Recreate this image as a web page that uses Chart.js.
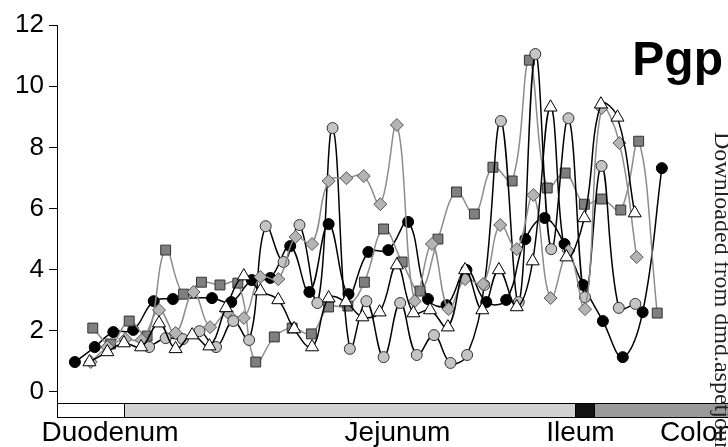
<!DOCTYPE html>
<html>
<head>
<meta charset="utf-8">
<script src="https://cdn.jsdelivr.net/npm/chart.js@4/dist/chart.umd.min.js"></script>
<style>
  html, body { margin: 0; padding: 0; background: #fff; }
  #wrap { width: 728px; height: 447px; position: relative; }
</style>
</head>
<body>
<div id="wrap"><canvas id="c" width="728" height="447"></canvas></div>
<script>
// Position along the gut (% of length) and Pgp expression for each animal
const filledCirclePos = [2.7, 5.7, 8.5, 11.5, 14.6, 17.5, 23.4, 26.3, 29.4, 32.2, 35.2, 38.1, 41.0, 44.0, 47.0, 50.0, 53.0, 56.0, 58.8, 61.8, 64.8, 67.8, 70.7, 73.6, 76.6, 79.4, 82.4, 85.4, 88.4, 91.3];
const filledCircleVal = [0.98, 1.47, 1.96, 2.03, 2.97, 3.04, 3.07, 2.94, 3.66, 3.73, 4.77, 3.27, 5.49, 3.20, 4.58, 4.64, 5.56, 3.04, 2.84, 3.99, 2.94, 3.01, 5.00, 5.69, 4.84, 3.50, 2.32, 1.14, 2.61, 7.32];

const greyCirclePos = [13.9, 16.4, 19.0, 21.5, 24.0, 26.6, 29.0, 31.5, 34.2, 36.6, 39.3, 41.6, 44.2, 46.7, 49.3, 51.8, 54.3, 56.9, 59.4, 61.9, 64.5, 67.0, 69.7, 72.2, 74.6, 77.2, 79.7, 82.2, 84.8, 87.3];
const greyCircleVal = [1.47, 1.76, 1.73, 1.99, 1.47, 2.32, 1.70, 5.42, 4.25, 5.46, 2.91, 8.63, 1.41, 2.97, 1.14, 2.91, 1.21, 1.86, 0.95, 1.21, 3.50, 8.86, 2.94, 11.05, 4.67, 8.95, 3.10, 7.39, 2.75, 2.88];

const squarePos = [5.4, 8.1, 10.9, 13.6, 16.4, 19.1, 21.8, 24.6, 27.3, 30.0, 32.8, 35.5, 38.4, 41.0, 43.9, 46.4, 49.3, 52.1, 54.8, 57.5, 60.3, 63.0, 65.8, 68.7, 71.3, 74.0, 76.7, 79.6, 82.2, 85.1, 87.8, 90.6];
const squareVal = [2.09, 1.57, 2.32, 1.83, 4.64, 3.20, 3.59, 3.50, 3.56, 0.98, 1.80, 2.09, 1.90, 2.78, 2.81, 3.59, 5.33, 4.25, 3.30, 5.00, 6.54, 5.82, 7.35, 6.90, 10.85, 6.67, 7.16, 6.14, 6.31, 5.95, 8.20, 2.58];

const diamondPos = [5.1, 7.6, 10.3, 12.8, 15.4, 17.9, 20.6, 23.1, 25.7, 28.2, 30.7, 33.4, 36.0, 38.5, 41.0, 43.7, 46.3, 48.8, 51.3, 54.0, 56.6, 59.1, 61.6, 64.3, 66.9, 69.4, 71.9, 74.5, 77.2, 79.7, 82.2, 84.9, 87.5];
const diamondVal = [0.98, 1.47, 1.73, 1.70, 2.68, 1.93, 3.27, 2.12, 2.61, 2.42, 3.76, 3.69, 5.07, 4.84, 6.90, 6.99, 7.06, 6.14, 8.73, 2.97, 4.84, 2.71, 3.69, 3.53, 5.46, 4.67, 6.44, 3.07, 4.61, 2.71, 9.28, 8.14, 4.41];

const trianglePos = [4.9, 7.6, 10.1, 12.7, 15.4, 17.9, 20.4, 23.0, 25.5, 28.2, 30.7, 33.4, 35.8, 38.5, 41.0, 43.6, 46.1, 48.7, 51.3, 53.8, 56.3, 59.0, 61.6, 64.2, 66.7, 69.4, 71.8, 74.5, 76.9, 79.6, 82.1, 84.6, 87.2];
const triangleVal = [0.98, 1.31, 1.60, 1.47, 2.25, 1.41, 1.86, 1.50, 2.75, 3.79, 3.30, 3.01, 2.06, 1.47, 3.07, 2.94, 2.45, 2.61, 4.15, 2.58, 2.68, 2.12, 3.99, 2.68, 3.99, 2.78, 4.28, 9.31, 4.41, 5.69, 9.41, 8.98, 5.85];

const yTicks = [0, 2, 4, 6, 8, 10, 12];

// Gut regions: names and their start/end along the gut (%)
const regionNames = ['Duodenum', 'Jejunum', 'Ileum', 'Colon'];
const regionStart = [0, 10.1, 78.2, 81.0];
const regionEnd   = [10.1, 78.2, 81.0, 110];

function pts(xs, ys) { return xs.map((x, i) => ({ x: x, y: ys[i] })); }

const regionStyle = {
  fills: ['#ffffff', '#d2d2d2', '#111111', '#9a9a9a'],
  labelAt: [8.0, 51.4, 79.0, 91.0],
  labelAlign: ['center', 'center', 'center', 'left'],
  barHeight: 14
};

const gutBar = {
  id: 'gutBar',
  afterDraw(chart) {
    const ctx = chart.ctx;
    const xs = chart.scales.x;
    const area = chart.chartArea;
    const top = area.bottom;
    const h = regionStyle.barHeight;
    ctx.save();
    for (let i = 0; i < regionNames.length; i++) {
      const x0 = Math.round(xs.getPixelForValue(regionStart[i]));
      const x1 = Math.round(xs.getPixelForValue(regionEnd[i]));
      ctx.fillStyle = regionStyle.fills[i];
      ctx.fillRect(x0, top, x1 - x0, h);
      ctx.strokeStyle = '#000';
      ctx.lineWidth = 1;
      ctx.strokeRect(x0 + 0.5, top + 0.5, x1 - x0, h);
    }
    ctx.fillStyle = '#000';
    ctx.font = '28px "Liberation Sans", Arial, sans-serif';
    ctx.textBaseline = 'middle';
    for (let i = 0; i < regionNames.length; i++) {
      ctx.textAlign = regionStyle.labelAlign[i];
      ctx.fillText(regionNames[i], xs.getPixelForValue(regionStyle.labelAt[i]), top + h + 16);
    }
    // panel title
    ctx.font = 'bold 48px "Liberation Sans", Arial, sans-serif';
    ctx.textAlign = 'right';
    ctx.textBaseline = 'alphabetic';
    ctx.fillText('Pgp', 723, 75);
    // vertical download note along the right edge
    ctx.translate(715, 132);
    ctx.rotate(Math.PI / 2);
    ctx.font = '24px "Liberation Serif", "Times New Roman", serif';
    ctx.fillStyle = '#222';
    ctx.textAlign = 'left';
    ctx.fillText('Downloaded from dmd.aspetjournals.org at ASPET Journals', 0, 0);
    ctx.restore();
  }
};

const common = { showLine: true, tension: 0.4, borderWidth: 1.5, pointBorderWidth: 1, pointHoverRadius: 6 };

new Chart(document.getElementById('c'), {
  type: 'scatter',
  data: {
    datasets: [
      Object.assign({}, common, {
        label: 'Animal 5', data: pts(trianglePos, triangleVal), order: 1,
        borderColor: '#000', pointStyle: 'triangle', pointRadius: 7.5,
        pointBackgroundColor: '#fff', pointBorderColor: '#000'
      }),
      Object.assign({}, common, {
        label: 'Animal 4', data: pts(diamondPos, diamondVal), order: 2,
        borderColor: '#8c8c8c', pointStyle: 'rectRot', pointRadius: 6.5,
        pointBackgroundColor: '#b4b4b4', pointBorderColor: '#555'
      }),
      Object.assign({}, common, {
        label: 'Animal 3', data: pts(greyCirclePos, greyCircleVal), order: 3,
        borderColor: '#000', pointStyle: 'circle', pointRadius: 5.5,
        pointBackgroundColor: '#c4c4c4', pointBorderColor: '#333'
      }),
      Object.assign({}, common, {
        label: 'Animal 2', data: pts(squarePos, squareVal), order: 4,
        borderColor: '#8c8c8c', pointStyle: 'rect', pointRadius: 7,
        pointBackgroundColor: '#7f7f7f', pointBorderColor: '#333'
      }),
      Object.assign({}, common, {
        label: 'Animal 1', data: pts(filledCirclePos, filledCircleVal), order: 5,
        borderColor: '#000', pointStyle: 'circle', pointRadius: 5.5,
        pointBackgroundColor: '#000', pointBorderColor: '#000'
      })
    ]
  },
  options: {
    responsive: false,
    animation: false,
    events: [],
    layout: { padding: { top: 25, bottom: 44, left: 0, right: 0 } },
    plugins: { legend: { display: false }, tooltip: { enabled: false } },
    scales: {
      x: { type: 'linear', min: 0, max: 100, display: false },
      y: {
        type: 'linear', min: -0.36, max: 12,
        afterBuildTicks(scale) { scale.ticks = yTicks.map(v => ({ value: v })); },
        afterFit(scale) { scale.width = 57; },
        grid: { drawOnChartArea: false, drawTicks: true, tickLength: 8, color: '#000', lineWidth: 1 },
        border: { display: true, color: '#000', width: 1 },
        ticks: { padding: 5, color: '#000', font: { family: '"Liberation Sans", Arial, sans-serif', size: 26 } }
      }
    }
  },
  plugins: [gutBar]
});
</script>
</body>
</html>
